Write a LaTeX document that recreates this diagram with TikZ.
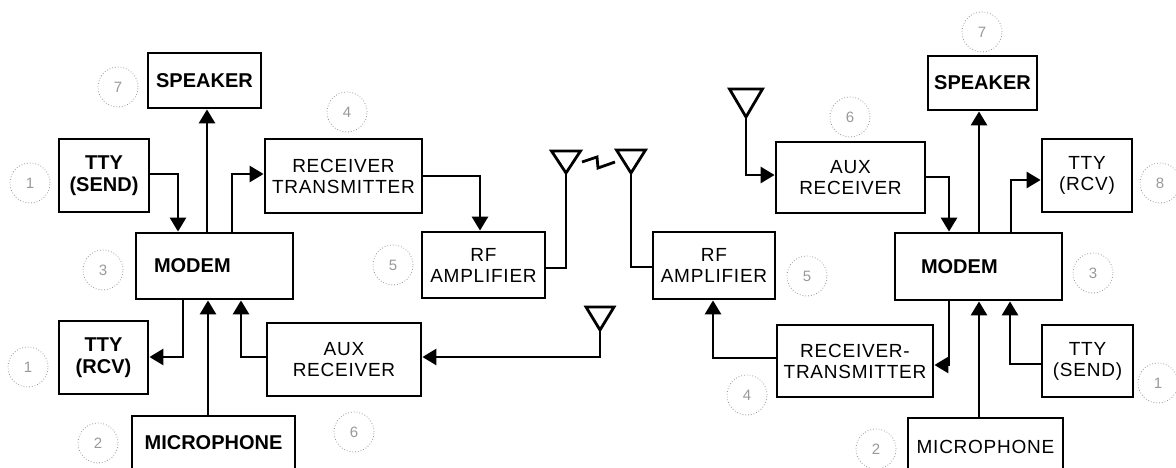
\documentclass[tikz,border=0pt]{standalone}
\usepackage{fontspec}
\setmainfont{Liberation Sans}
\newfontfamily\spacedfont[LetterSpace=4]{Liberation Sans}
\usetikzlibrary{arrows.meta}
\begin{document}
\begin{tikzpicture}[x=1pt,y=-1pt,
  box/.style={draw, rectangle, line width=2.8pt, inner sep=0pt, align=center},
  bold/.style={font=\fontsize{20}{22}\selectfont\bfseries},
  reg/.style={font=\spacedfont\fontsize{19}{21}\selectfont},
  wire/.style={line width=2.8pt},
  arr/.style={wire, -{Triangle[length=14pt,width=16pt]}},
  numc/.style={circle, draw=black!40, dotted, line width=0.8pt, minimum size=40pt, inner sep=0pt, text=black!40, font=\fontsize{15}{15}\selectfont}]
\useasboundingbox (0,0) rectangle (1176,468);
\fill[white] (0,0) rectangle (1176,468);
\clip (0,0) rectangle (1176,468);

% ---------- left station ----------
\node[box,bold,minimum width=113pt,minimum height=55pt] (spkL) at (204.5,80.5) {SPEAKER};
\node[box,bold,minimum width=90pt,minimum height=73pt] (ttySL) at (104,175.5) {TTY\\(SEND)};
\node[box,bold,minimum height=66pt,text width=121pt,inner xsep=18pt,align=left] (modemL) at (214.5,266) {MODEM};
\node[box,reg,minimum width=157pt,minimum height=74pt] (RTL) at (343.5,176) {RECEIVER\\TRANSMITTER};
\node[box,reg,minimum width=123pt,minimum height=66pt] (RFL) at (483.5,265) {RF\\AMPLIFIER};
\node[box,bold,minimum width=89pt,minimum height=73pt] (ttyRL) at (103.5,357.5) {TTY\\(RCV)};
\node[box,reg,minimum width=154pt,minimum height=73pt] (auxL) at (344,359.5) {AUX\\RECEIVER};
\node[box,bold,minimum width=163pt,minimum height=54pt] (micL) at (213.5,443) {MICROPHONE};

\coordinate (antL1) at (566,173);
\coordinate (antL2) at (600,330);
\draw[wire,line join=miter] ([shift={(-14.5,-22)}]antL1) -- ([shift={(14.5,-22)}]antL1) -- (antL1) -- cycle;
\draw[wire,line join=miter] ([shift={(-14,-23)}]antL2) -- ([shift={(14,-23)}]antL2) -- (antL2) -- cycle;

\draw[arr] (207,0 |- modemL.north) -- (207,0 |- spkL.south);
\draw[arr] (ttySL.east |- 0,174) -| (178,0 |- modemL.north);
\draw[arr] (232,0 |- modemL.north) |- (RTL.west |- 0,174);
\draw[arr] (RTL.east |- 0,176) -| (480,0 |- RFL.north);
\draw[wire] (RFL.east |- 0,268) -| (antL1);
\draw[arr] (183,0 |- modemL.south) |- (ttyRL.east |- 0,357);
\draw[arr] (208,0 |- micL.north) -- (208,0 |- modemL.south);
\draw[arr] (auxL.west |- 0,357) -| (241,0 |- modemL.south);
\draw[arr] (antL2) |- (auxL.east |- 0,357);

% ---------- radio link ----------
\coordinate (antR1) at (631,173);
\draw[wire,line join=miter] ([shift={(-14.5,-23)}]antR1) -- ([shift={(14.5,-23)}]antR1) -- (antR1) -- cycle;
\draw[wire] (582,162) -- (597,157) -- (598,168) -- (615,162);

% ---------- right station ----------
\node[box,reg,minimum width=122pt,minimum height=67pt] (RFR) at (714,265.5) {RF\\AMPLIFIER};
\node[box,reg,minimum width=149pt,minimum height=71pt] (auxR) at (850.5,177.5) {AUX\\RECEIVER};
\node[box,bold,minimum height=67pt,text width=115pt,inner xsep=26pt,align=left] (modemR) at (978.5,266.5) {MODEM};
\node[box,bold,minimum width=109pt,minimum height=54pt] (spkR) at (982.5,83) {SPEAKER};
\node[box,reg,minimum width=90pt,minimum height=73pt] (ttyRR) at (1087,175.5) {TTY\\(RCV)};
\node[box,reg,minimum width=156pt,minimum height=72pt] (RTR) at (855,361) {RECEIVER-\\TRANSMITTER};
\node[box,reg,minimum width=91pt,minimum height=72pt] (ttySR) at (1087.5,361) {TTY\\(SEND)};
\node[box,reg,minimum width=155pt,minimum height=58pt] (micR) at (985.5,447) {MICROPHONE};

\coordinate (antR2) at (746,117);
\draw[wire,line join=miter] ([shift={(-16.5,-28)}]antR2) -- ([shift={(16.5,-28)}]antR2) -- (antR2) -- cycle;

\draw[wire] (antR1) |- (RFR.west |- 0,267);
\draw[arr] (antR2) |- (auxR.west |- 0,175);
\draw[arr] (auxR.east |- 0,177) -| (949,0 |- modemR.north);
\draw[arr] (979,0 |- modemR.north) -- (979,0 |- spkR.south);
\draw[arr] (1011,0 |- modemR.north) |- (ttyRR.west |- 0,180);
\draw[arr] (RTR.west |- 0,358) -| (713,0 |- RFR.south);
\draw[arr] (949,0 |- modemR.south) |- (RTR.east |- 0,365);
\draw[arr] (979,0 |- micR.north) -- (979,0 |- modemR.south);
\draw[arr] (ttySR.west |- 0,364) -| (1010,0 |- modemR.south);

% ---------- circled reference numbers ----------
\node[numc] (cL7) at (118,87) {7};
\node[numc] (cL1a) at (30,183) {1};
\node[numc] (cL3) at (103,270) {3};
\node[numc] (cL1b) at (28,367) {1};
\node[numc] (cL2) at (98,443) {2};
\node[numc] (cL4) at (347,112) {4};
\node[numc] (cL5) at (393,265) {5};
\node[numc] (cL6) at (354,432) {6};
\node[numc] (cR7) at (982,32) {7};
\node[numc] (cR8) at (1160,183) {8};
\node[numc] (cR6) at (850,117) {6};
\node[numc] (cR3) at (1093,273) {3};
\node[numc] (cR1) at (1158,383) {1};
\node[numc] (cR5) at (807,276) {5};
\node[numc] (cR4) at (747,395) {4};
\node[numc] (cR2) at (876,449) {2};
\end{tikzpicture}
\end{document}
